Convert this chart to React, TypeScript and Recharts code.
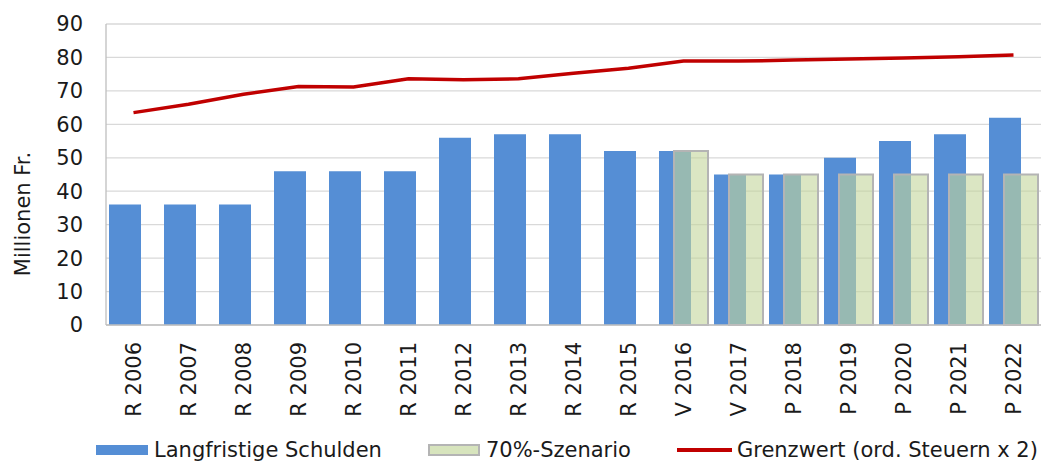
import React from 'react';
import { ComposedChart, Bar, Line, XAxis, YAxis, CartesianGrid } from 'recharts';

const categories = [
  'R 2006', 'R 2007', 'R 2008', 'R 2009', 'R 2010', 'R 2011', 'R 2012', 'R 2013', 'R 2014',
  'R 2015', 'V 2016', 'V 2017', 'P 2018', 'P 2019', 'P 2020', 'P 2021', 'P 2022',
];
const schulden = [36, 36, 36, 46, 46, 46, 56, 57, 57, 52, 52, 45, 45, 50, 55, 57, 62];
const szenario: (number | null)[] = [null, null, null, null, null, null, null, null, null, null, 52, 45, 45, 45, 45, 45, 45];
const grenzwert = [63.5, 66.0, 69.0, 71.3, 71.2, 73.6, 73.3, 73.6, 75.3, 76.8, 78.9, 78.9, 79.2, 79.5, 79.8, 80.2, 80.7];
const yTicks = [0, 10, 20, 30, 40, 50, 60, 70, 80, 90];

const seriesNames = {
  schulden: 'Langfristige Schulden',
  szenario: '70%-Szenario',
  grenzwert: 'Grenzwert (ord. Steuern x 2)',
};

const data = categories.map((c, i) => ({
  name: c,
  schulden: schulden[i],
  szenario: szenario[i],
  grenzwert: grenzwert[i],
}));

const FONT = '"DejaVu Sans", sans-serif';
const TEXT = '#1a1a1a';

const XTick = (props: any) => {
  const { x, y, payload } = props;
  return (
    <text
      x={x}
      y={y}
      transform={`rotate(-90 ${x} ${y})`}
      textAnchor="end"
      dy="0.36em"
      fill={TEXT}
      fontSize={21}
      fontFamily={FONT}
    >
      {payload.value}
    </text>
  );
};

const YLabel = () => (
  <text
    x={23}
    y={214}
    transform="rotate(-90 23 214)"
    textAnchor="middle"
    dominantBaseline="central"
    fill={TEXT}
    fontSize={21}
    fontFamily={FONT}
  >
    Millionen Fr.
  </text>
);

export default function App() {
  return (
    <div style={{ position: 'absolute', left: 0, top: 0, width: 1042, height: 462, background: '#fff' }}>
      <ComposedChart
        width={1042}
        height={462}
        data={data}
        margin={{ top: 24, right: 1, left: 0, bottom: 0 }}
        barGap={-17}
      >
        <CartesianGrid vertical={false} stroke="#d9d9d9" strokeWidth={1.3} />
        <XAxis
          dataKey="name"
          interval={0}
          height={137}
          tickLine={false}
          tickSize={6}
          tickMargin={11}
          axisLine={{ stroke: '#bfbfbf', strokeWidth: 1.3 }}
          tick={<XTick />}
        />
        <YAxis
          width={106}
          domain={[0, 90]}
          ticks={yTicks}
          interval={0}
          tickLine={false}
          tickSize={6}
          tickMargin={17}
          axisLine={{ stroke: '#bfbfbf', strokeWidth: 1.3 }}
          tick={{ fill: TEXT, fontSize: 21, fontFamily: FONT }}
          label={{ content: () => <YLabel /> }}
        />
        <Bar dataKey="schulden" name={seriesNames.schulden} fill="#558ed5" barSize={32} isAnimationActive={false} />
        <Bar
          dataKey="szenario"
          name={seriesNames.szenario}
          fill="#c3d69b"
          fillOpacity={0.6}
          stroke="#b4b4b4"
          strokeWidth={2}
          barSize={34}
          isAnimationActive={false}
        />
        <Line
          dataKey="grenzwert"
          name={seriesNames.grenzwert}
          type="linear"
          stroke="#c00000"
          strokeWidth={3.5}
          dot={false}
          activeDot={false}
          isAnimationActive={false}
        />
      </ComposedChart>
      <div
        style={{
          position: 'absolute',
          left: 96,
          top: 438,
          display: 'flex',
          alignItems: 'center',
          fontFamily: FONT,
          fontSize: 21,
          color: TEXT,
          whiteSpace: 'nowrap',
          lineHeight: '24px',
        }}
      >
        <div style={{ display: 'flex', alignItems: 'center', marginRight: 46 }}>
          <div style={{ width: 52, height: 10, background: '#558ed5', marginRight: 6 }} />
          <span>{seriesNames.schulden}</span>
        </div>
        <div style={{ display: 'flex', alignItems: 'center', marginRight: 46 }}>
          <div style={{ width: 48, height: 8, background: '#d7e4bd', border: '2px solid #b4b4b4', marginRight: 6 }} />
          <span>{seriesNames.szenario}</span>
        </div>
        <div style={{ display: 'flex', alignItems: 'center' }}>
          <div style={{ width: 55, height: 3.5, background: '#c00000', marginRight: 5 }} />
          <span>{seriesNames.grenzwert}</span>
        </div>
      </div>
    </div>
  );
}
